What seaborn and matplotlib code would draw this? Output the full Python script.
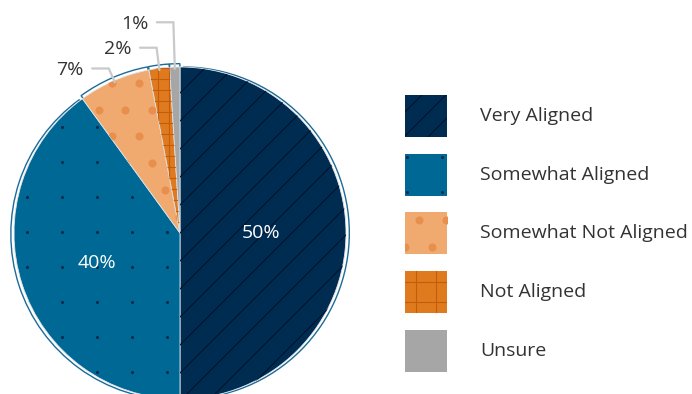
import numpy as np
import matplotlib
matplotlib.use("Agg")
import matplotlib.pyplot as plt
from matplotlib.patches import Rectangle
from matplotlib.collections import LineCollection
import seaborn as sns

# Survey shares by alignment category
categories = ["Very Aligned", "Somewhat Aligned", "Somewhat Not Aligned", "Not Aligned", "Unsure"]
values = [50, 40, 7, 2, 1]
pct_labels = ["50%", "40%", "7%", "2%", "1%"]

colors = ["#002c52", "#006894", "#f0aa70", "#e07a1e", "#a6a6a6"]
patterns = ["diag", "smalldots", "bigdots", "grid", None]

sns.set_theme(style="white")
plt.rcParams["font.family"] = ["Open Sans", "DejaVu Sans"]

W, H, DPI = 692, 394, 100
PX = 166.0          # pixels per data unit (pie radius)
CX, CY = 180.0, 233.0
FS = 14

fig = plt.figure(figsize=(W / DPI, H / DPI), dpi=DPI)
ax = fig.add_axes([0, 0, 1, 1])


def px(x, y):
    """pixel position (from top-left) -> data coordinates"""
    return (x - CX) / PX, (CY - y) / PX


def _range(lo, hi, step, org):
    return np.arange(np.floor((lo - org) / step) - 2, np.ceil((hi - org) / step) + 3)


def add_pattern(ax, clip, kind, bounds, origin=(0.0, 0.0), step_px=None):
    """Fill pattern drawn over a patch and clipped to it."""
    x0, x1, y0, y1 = bounds
    ox, oy = origin
    if kind == "diag":
        step = (step_px or 28) / PX
        segs = []
        for k in _range(y0 - x1, y1 - x0, step, oy - ox):
            c = oy - ox + k * step
            segs.append([(x0 - 1, x0 - 1 + c), (x1 + 1, x1 + 1 + c)])
        lc = LineCollection(segs, colors="#00152b", linewidths=0.8, zorder=3)
        ax.add_collection(lc)
        lc.set_clip_path(clip)
    elif kind == "grid":
        step = (step_px or 11) / PX
        segs = []
        for k in _range(x0, x1, step, ox):
            v = ox + k * step
            segs.append([(v, y0 - 1), (v, y1 + 1)])
        for k in _range(y0, y1, step, oy):
            v = oy + k * step
            segs.append([(x0 - 1, v), (x1 + 1, v)])
        lc = LineCollection(segs, colors="#c45c0c", linewidths=0.8, zorder=3)
        ax.add_collection(lc)
        lc.set_clip_path(clip)
    elif kind == "smalldots":
        step = (step_px or 35) / PX
        xs = ox + _range(x0, x1, step, ox) * step
        ys = oy + _range(y0, y1, step, oy) * step
        gx, gy = np.meshgrid(xs, ys)
        sc = ax.scatter(gx.ravel(), gy.ravel(), s=5, color="#0b2a4f", linewidths=0, zorder=3)
        sc.set_clip_path(clip)
    elif kind == "bigdots":
        step = (step_px or 26.7) / PX
        pts = []
        for r in _range(y0, y1, step, oy):
            shift = (step / 2) if int(r) % 2 else 0.0
            for c in _range(x0, x1, step, ox):
                pts.append((ox + c * step + shift, oy + r * step))
        pts = np.array(pts)
        sc = ax.scatter(pts[:, 0], pts[:, 1], s=34, color="#e88f4e", linewidths=0, zorder=3)
        sc.set_clip_path(clip)


# anchor points of the fill patterns inside the pie
pie_origins = {"diag": (0.0, 0.0), "smalldots": px(27, 232),
               "bigdots": px(112, 83), "grid": (0.0, 0.0)}

# offset outline behind each slice
outline, _ = ax.pie(values, startangle=90, counterclock=False, radius=1.0,
                    explode=[0.02] * len(values), colors=["white"] * len(values),
                    wedgeprops=dict(edgecolor="#1d6b96", linewidth=1.0))
for w in outline:
    w.set_zorder(1)

# main pie
wedges, _ = ax.pie(values, startangle=90, counterclock=False, radius=1.0,
                   colors=colors, wedgeprops=dict(edgecolor="#dfe5ea", linewidth=0.6))
for w, kind in zip(wedges, patterns):
    w.set_zorder(2)
    if kind:
        add_pattern(ax, w, kind, (-1.05, 1.05, -1.05, 1.05), origin=pie_origins[kind])

# percentage labels
inner_pos = {0: (0.49, 0.0), 1: (0.535, 2.0)}     # radius, angle nudge (deg)
leader_r = {2: 1.08, 3: 1.125, 4: 1.27}
for i, w in enumerate(wedges):
    mid_deg = (w.theta1 + w.theta2) / 2
    mid = np.deg2rad(mid_deg)
    if i in inner_pos:
        r, nudge = inner_pos[i]
        a = np.deg2rad(mid_deg + nudge)
        ax.text(r * np.cos(a), r * np.sin(a), pct_labels[i], color="white",
                fontsize=FS, ha="center", va="center", zorder=5)
    else:
        ax_, ay_ = 0.99 * np.cos(mid), 0.99 * np.sin(mid)
        R = leader_r[i]
        ex, ey = R * np.cos(mid), R * np.sin(mid)
        hx = ex - 0.1
        ax.plot([ax_, ex, hx], [ay_, ey, ey], color="#c9c9c9", lw=1.6,
                solid_joinstyle="miter", zorder=4)
        ax.text(hx - 0.05, ey - 0.01, pct_labels[i], color="#333333", fontsize=FS,
                ha="right", va="center", zorder=5)

# legend swatches and labels
box = 42 / PX
legend_steps = {"diag": 24, "smalldots": 35, "bigdots": 27, "grid": 20}
for i, (cat, col, kind) in enumerate(zip(categories, colors, patterns)):
    top = 95 + i * 58.7
    bx, by = px(405, top + 42)
    rect = Rectangle((bx, by), box, box, facecolor=col, edgecolor="none", zorder=2)
    ax.add_patch(rect)
    if kind:
        org = {"diag": px(405, top + 17), "smalldots": px(406.7, top + 3.3),
               "bigdots": px(405, top + 34.3), "grid": px(415.7, top + 10.7)}[kind]
        add_pattern(ax, rect, kind, (bx, bx + box, by, by + box),
                    origin=org, step_px=legend_steps[kind])
    tx, ty = px(480, top + 21)
    ax.text(tx, ty, cat, color="#333333", fontsize=FS, ha="left", va="center")

x0, y1 = px(0, 0)
x1, y0 = px(W, H)
ax.set_xlim(x0, x1)
ax.set_ylim(y0, y1)
ax.set_aspect("auto")
ax.axis("off")

fig.savefig("out.png", dpi=DPI, facecolor="white")
